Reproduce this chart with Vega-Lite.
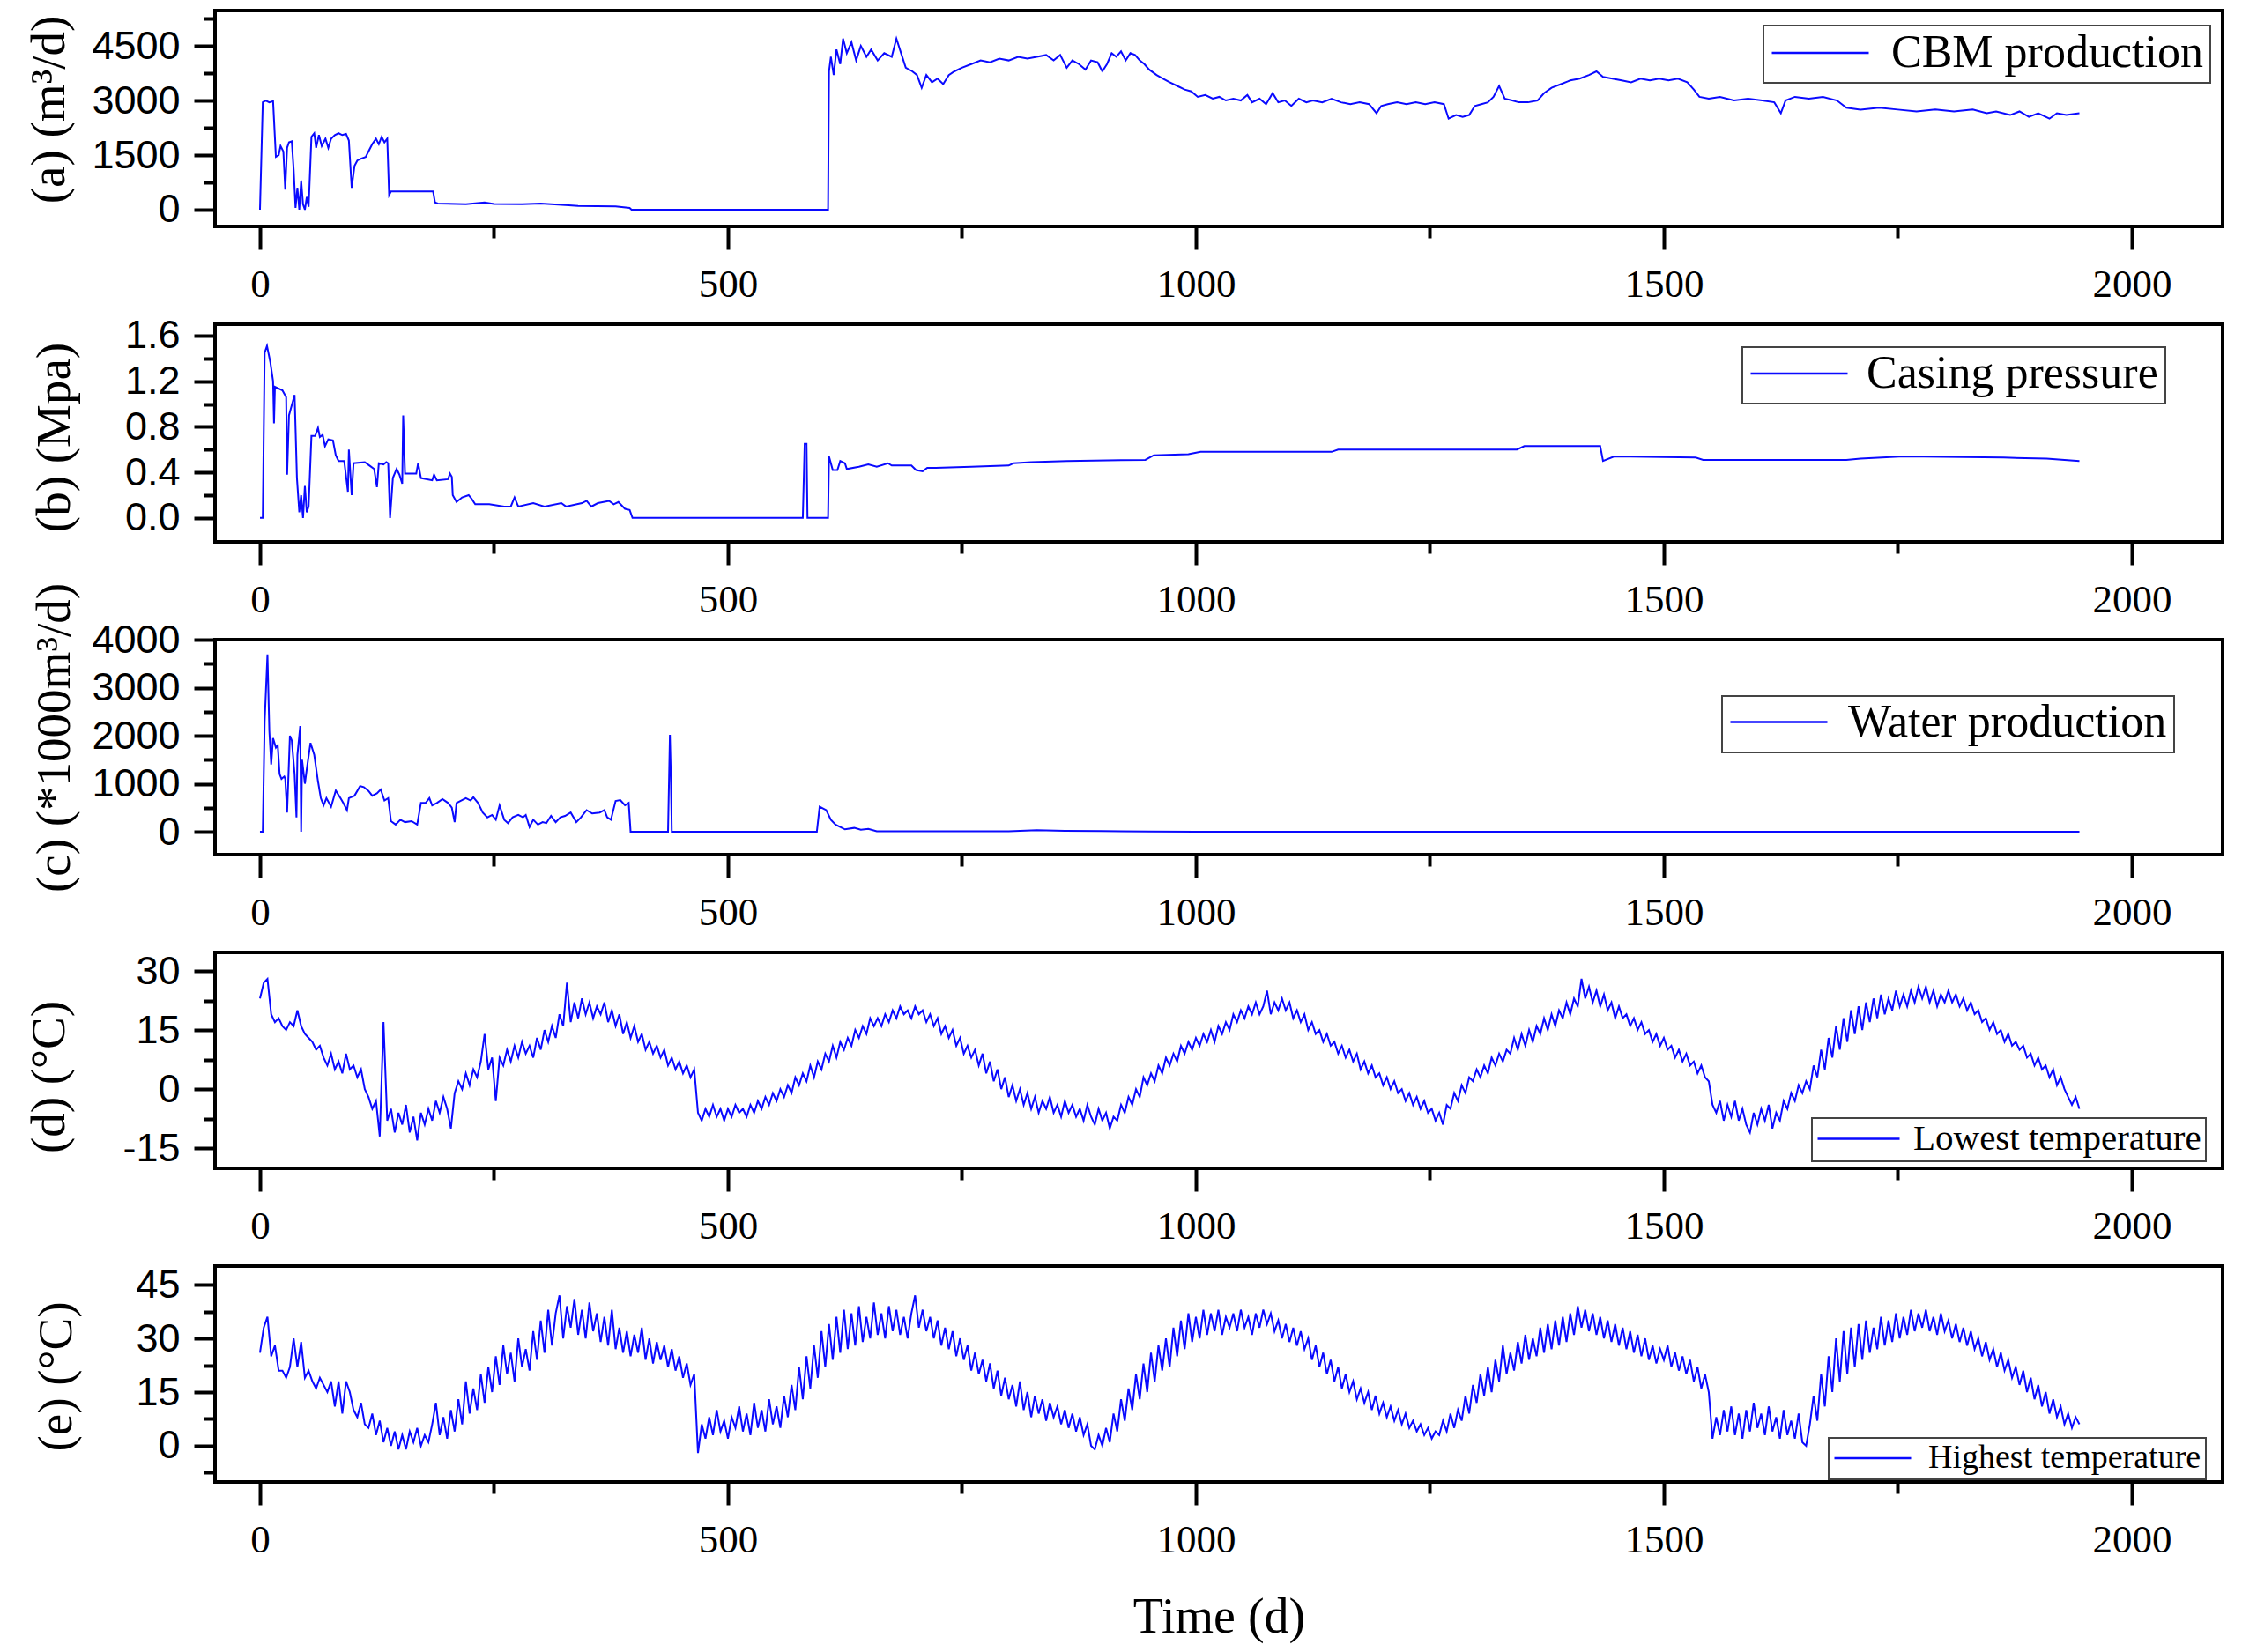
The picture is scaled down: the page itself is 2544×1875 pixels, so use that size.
{
"$schema": "https://vega.github.io/schema/vega-lite/v6.json",
"background": "white",
"padding": {"left": 26, "top": 10, "right": 5, "bottom": 5},
"bounds": "flush",
"spacing": 111,
"datasets": {
"a": [{"t":0,"v":0},{"t":3,"v":2950},{"t":6,"v":3000},{"t":10,"v":2950},{"t":14,"v":2980},{"t":17,"v":1450},{"t":20,"v":1500},{"t":22,"v":1750},{"t":25,"v":1600},{"t":27,"v":550},{"t":29,"v":1700},{"t":31,"v":1850},{"t":34,"v":1880},{"t":36,"v":1100},{"t":38,"v":50},{"t":40,"v":600},{"t":42,"v":0},{"t":44,"v":800},{"t":46,"v":150},{"t":48,"v":0},{"t":50,"v":350},{"t":52,"v":80},{"t":55,"v":2000},{"t":58,"v":2100},{"t":60,"v":1700},{"t":63,"v":2050},{"t":66,"v":1750},{"t":70,"v":1950},{"t":73,"v":1700},{"t":76,"v":1950},{"t":80,"v":2050},{"t":84,"v":2100},{"t":88,"v":2050},{"t":92,"v":2080},{"t":95,"v":1900},{"t":98,"v":600},{"t":101,"v":1200},{"t":104,"v":1350},{"t":108,"v":1400},{"t":113,"v":1450},{"t":117,"v":1650},{"t":120,"v":1800},{"t":124,"v":1950},{"t":127,"v":1800},{"t":130,"v":2000},{"t":133,"v":1850},{"t":136,"v":1950},{"t":138,"v":400},{"t":140,"v":500},{"t":185,"v":500},{"t":187,"v":200},{"t":190,"v":170},{"t":220,"v":150},{"t":240,"v":200},{"t":250,"v":160},{"t":280,"v":150},{"t":300,"v":170},{"t":330,"v":120},{"t":340,"v":100},{"t":380,"v":90},{"t":395,"v":50},{"t":397,"v":0},{"t":607,"v":0},{"t":608,"v":3800},{"t":610,"v":4200},{"t":613,"v":3700},{"t":616,"v":4400},{"t":620,"v":4000},{"t":623,"v":4700},{"t":627,"v":4300},{"t":632,"v":4600},{"t":637,"v":4100},{"t":642,"v":4500},{"t":648,"v":4200},{"t":653,"v":4400},{"t":660,"v":4100},{"t":667,"v":4300},{"t":675,"v":4200},{"t":680,"v":4700},{"t":685,"v":4300},{"t":690,"v":3900},{"t":697,"v":3800},{"t":702,"v":3700},{"t":707,"v":3350},{"t":712,"v":3700},{"t":718,"v":3500},{"t":724,"v":3600},{"t":730,"v":3450},{"t":736,"v":3700},{"t":742,"v":3800},{"t":750,"v":3900},{"t":760,"v":4000},{"t":770,"v":4100},{"t":780,"v":4050},{"t":790,"v":4150},{"t":800,"v":4100},{"t":810,"v":4200},{"t":820,"v":4150},{"t":830,"v":4200},{"t":840,"v":4250},{"t":848,"v":4100},{"t":855,"v":4250},{"t":862,"v":3900},{"t":868,"v":4100},{"t":875,"v":4000},{"t":882,"v":3850},{"t":888,"v":4100},{"t":895,"v":4050},{"t":900,"v":3800},{"t":905,"v":4000},{"t":910,"v":4300},{"t":915,"v":4200},{"t":920,"v":4350},{"t":925,"v":4100},{"t":930,"v":4300},{"t":935,"v":4250},{"t":940,"v":4100},{"t":945,"v":4000},{"t":950,"v":3850},{"t":958,"v":3700},{"t":965,"v":3600},{"t":972,"v":3500},{"t":980,"v":3400},{"t":988,"v":3300},{"t":995,"v":3250},{"t":1002,"v":3100},{"t":1010,"v":3150},{"t":1018,"v":3050},{"t":1025,"v":3100},{"t":1032,"v":3000},{"t":1040,"v":3050},{"t":1048,"v":3000},{"t":1055,"v":3150},{"t":1060,"v":2950},{"t":1068,"v":3050},{"t":1075,"v":2900},{"t":1082,"v":3200},{"t":1088,"v":2950},{"t":1095,"v":3000},{"t":1102,"v":2850},{"t":1110,"v":3050},{"t":1118,"v":2950},{"t":1125,"v":3000},{"t":1135,"v":2950},{"t":1145,"v":3050},{"t":1155,"v":2950},{"t":1165,"v":2900},{"t":1175,"v":2950},{"t":1185,"v":2900},{"t":1193,"v":2650},{"t":1198,"v":2850},{"t":1205,"v":2900},{"t":1215,"v":2950},{"t":1225,"v":2900},{"t":1235,"v":2950},{"t":1245,"v":2900},{"t":1255,"v":2950},{"t":1265,"v":2900},{"t":1270,"v":2500},{"t":1278,"v":2600},{"t":1285,"v":2550},{"t":1292,"v":2600},{"t":1298,"v":2850},{"t":1305,"v":2900},{"t":1312,"v":2950},{"t":1318,"v":3100},{"t":1324,"v":3400},{"t":1330,"v":3050},{"t":1338,"v":3000},{"t":1345,"v":2950},{"t":1355,"v":2950},{"t":1365,"v":3000},{"t":1372,"v":3200},{"t":1380,"v":3350},{"t":1390,"v":3450},{"t":1400,"v":3550},{"t":1410,"v":3600},{"t":1420,"v":3700},{"t":1428,"v":3800},{"t":1435,"v":3650},{"t":1445,"v":3600},{"t":1455,"v":3550},{"t":1465,"v":3500},{"t":1475,"v":3600},{"t":1485,"v":3550},{"t":1495,"v":3600},{"t":1505,"v":3550},{"t":1515,"v":3600},{"t":1525,"v":3500},{"t":1532,"v":3300},{"t":1538,"v":3100},{"t":1548,"v":3050},{"t":1560,"v":3100},{"t":1575,"v":3000},{"t":1590,"v":3050},{"t":1605,"v":3000},{"t":1618,"v":2950},{"t":1625,"v":2650},{"t":1630,"v":3000},{"t":1640,"v":3100},{"t":1655,"v":3050},{"t":1670,"v":3100},{"t":1685,"v":3000},{"t":1695,"v":2800},{"t":1710,"v":2750},{"t":1730,"v":2800},{"t":1750,"v":2750},{"t":1770,"v":2700},{"t":1790,"v":2750},{"t":1810,"v":2700},{"t":1830,"v":2750},{"t":1845,"v":2650},{"t":1855,"v":2700},{"t":1870,"v":2600},{"t":1880,"v":2700},{"t":1890,"v":2550},{"t":1900,"v":2650},{"t":1912,"v":2500},{"t":1920,"v":2650},{"t":1930,"v":2600},{"t":1944,"v":2650}],
"b": [{"t":0,"v":0},{"t":3,"v":0},{"t":5,"v":1.45},{"t":7.5,"v":1.51},{"t":11,"v":1.37},{"t":14,"v":1.2},{"t":15,"v":0.83},{"t":16,"v":1.15},{"t":24,"v":1.12},{"t":28,"v":1.06},{"t":29,"v":0.38},{"t":31,"v":0.9},{"t":37,"v":1.08},{"t":39.5,"v":0.35},{"t":42,"v":0.05},{"t":44,"v":0.2},{"t":45,"v":0.1},{"t":46,"v":0},{"t":48,"v":0.28},{"t":50,"v":0.05},{"t":52,"v":0.1},{"t":55,"v":0.72},{"t":59,"v":0.72},{"t":62,"v":0.79},{"t":64,"v":0.71},{"t":67,"v":0.73},{"t":69.5,"v":0.63},{"t":73,"v":0.69},{"t":78,"v":0.68},{"t":81,"v":0.55},{"t":84,"v":0.5},{"t":90,"v":0.5},{"t":94,"v":0.23},{"t":95,"v":0.6},{"t":98,"v":0.2},{"t":100,"v":0.48},{"t":112,"v":0.49},{"t":117,"v":0.46},{"t":122,"v":0.43},{"t":125,"v":0.27},{"t":127,"v":0.48},{"t":132,"v":0.47},{"t":135,"v":0.49},{"t":137,"v":0.48},{"t":139,"v":0},{"t":142,"v":0.35},{"t":146,"v":0.43},{"t":149,"v":0.38},{"t":152,"v":0.3},{"t":153,"v":0.9},{"t":155,"v":0.39},{"t":167,"v":0.39},{"t":169,"v":0.48},{"t":172,"v":0.35},{"t":184,"v":0.33},{"t":186,"v":0.38},{"t":189,"v":0.33},{"t":201,"v":0.34},{"t":203,"v":0.39},{"t":205,"v":0.36},{"t":206,"v":0.2},{"t":210,"v":0.14},{"t":216,"v":0.18},{"t":223,"v":0.2},{"t":226,"v":0.17},{"t":230,"v":0.12},{"t":245,"v":0.12},{"t":261,"v":0.1},{"t":268,"v":0.1},{"t":272,"v":0.18},{"t":276,"v":0.1},{"t":292,"v":0.13},{"t":304,"v":0.1},{"t":322,"v":0.13},{"t":327,"v":0.1},{"t":344,"v":0.13},{"t":349,"v":0.15},{"t":354,"v":0.1},{"t":361,"v":0.13},{"t":373,"v":0.15},{"t":378,"v":0.12},{"t":383,"v":0.14},{"t":390,"v":0.08},{"t":395,"v":0.07},{"t":398,"v":0},{"t":580,"v":0},{"t":582,"v":0.65},{"t":584,"v":0.65},{"t":585,"v":0},{"t":607,"v":0},{"t":608,"v":0.54},{"t":612,"v":0.42},{"t":617,"v":0.42},{"t":620,"v":0.5},{"t":625,"v":0.48},{"t":627,"v":0.43},{"t":640,"v":0.45},{"t":650,"v":0.47},{"t":659,"v":0.45},{"t":671,"v":0.48},{"t":675,"v":0.46},{"t":696,"v":0.46},{"t":701,"v":0.42},{"t":708,"v":0.41},{"t":713,"v":0.44},{"t":722,"v":0.44},{"t":760,"v":0.45},{"t":800,"v":0.46},{"t":805,"v":0.48},{"t":824,"v":0.49},{"t":862,"v":0.5},{"t":946,"v":0.51},{"t":955,"v":0.55},{"t":992,"v":0.56},{"t":1005,"v":0.58},{"t":1145,"v":0.58},{"t":1152,"v":0.6},{"t":1343,"v":0.6},{"t":1351,"v":0.63},{"t":1432,"v":0.63},{"t":1435,"v":0.5},{"t":1447,"v":0.54},{"t":1534,"v":0.53},{"t":1542,"v":0.51},{"t":1695,"v":0.51},{"t":1710,"v":0.52},{"t":1756,"v":0.54},{"t":1863,"v":0.53},{"t":1909,"v":0.52},{"t":1944,"v":0.5}],
"c": [{"t":0,"v":0},{"t":3,"v":0},{"t":5,"v":2300},{"t":8,"v":3690},{"t":10,"v":2100},{"t":12,"v":1400},{"t":14,"v":1950},{"t":17,"v":1750},{"t":19,"v":1800},{"t":21,"v":1200},{"t":23,"v":1100},{"t":26,"v":1150},{"t":27,"v":1100},{"t":29,"v":400},{"t":32,"v":2000},{"t":34,"v":1900},{"t":37,"v":1200},{"t":39,"v":300},{"t":40,"v":1600},{"t":43,"v":2200},{"t":44,"v":0},{"t":45,"v":1500},{"t":48,"v":1000},{"t":50,"v":1300},{"t":54,"v":1850},{"t":58,"v":1600},{"t":62,"v":1050},{"t":65,"v":700},{"t":68,"v":550},{"t":71,"v":700},{"t":76,"v":520},{"t":81,"v":860},{"t":86,"v":700},{"t":89,"v":600},{"t":93,"v":450},{"t":95,"v":700},{"t":101,"v":750},{"t":107,"v":950},{"t":111,"v":930},{"t":116,"v":850},{"t":120,"v":750},{"t":125,"v":800},{"t":129,"v":880},{"t":133,"v":650},{"t":137,"v":700},{"t":140,"v":220},{"t":145,"v":150},{"t":150,"v":250},{"t":155,"v":200},{"t":162,"v":220},{"t":168,"v":150},{"t":172,"v":600},{"t":177,"v":600},{"t":181,"v":700},{"t":184,"v":550},{"t":189,"v":600},{"t":195,"v":680},{"t":201,"v":600},{"t":205,"v":500},{"t":208,"v":200},{"t":210,"v":600},{"t":215,"v":650},{"t":220,"v":700},{"t":225,"v":650},{"t":228,"v":720},{"t":233,"v":600},{"t":238,"v":400},{"t":243,"v":300},{"t":248,"v":350},{"t":252,"v":250},{"t":256,"v":550},{"t":261,"v":250},{"t":265,"v":180},{"t":270,"v":300},{"t":276,"v":350},{"t":281,"v":300},{"t":284,"v":350},{"t":288,"v":100},{"t":292,"v":250},{"t":297,"v":150},{"t":302,"v":200},{"t":306,"v":180},{"t":311,"v":330},{"t":316,"v":200},{"t":321,"v":300},{"t":326,"v":330},{"t":332,"v":400},{"t":338,"v":200},{"t":343,"v":300},{"t":349,"v":450},{"t":355,"v":380},{"t":363,"v":400},{"t":368,"v":450},{"t":371,"v":300},{"t":375,"v":250},{"t":380,"v":640},{"t":385,"v":660},{"t":390,"v":550},{"t":394,"v":600},{"t":396,"v":0},{"t":436,"v":0},{"t":438,"v":2020},{"t":439,"v":1200},{"t":440,"v":0},{"t":595,"v":0},{"t":598,"v":520},{"t":605,"v":450},{"t":610,"v":250},{"t":615,"v":150},{"t":620,"v":100},{"t":625,"v":50},{"t":635,"v":80},{"t":642,"v":40},{"t":650,"v":60},{"t":659,"v":10},{"t":800,"v":10},{"t":830,"v":30},{"t":860,"v":20},{"t":900,"v":15},{"t":950,"v":5},{"t":1000,"v":0},{"t":1944,"v":0}],
"T": [{"t":0,"lo":23,"hi":26},{"t":4,"lo":27,"hi":33},{"t":8,"lo":28,"hi":36},{"t":12,"lo":19,"hi":25},{"t":16,"lo":17,"hi":28},{"t":20,"lo":18,"hi":21},{"t":24,"lo":16,"hi":21},{"t":28,"lo":15,"hi":19},{"t":32,"lo":17,"hi":22},{"t":36,"lo":16,"hi":30},{"t":40,"lo":20,"hi":22},{"t":44,"lo":16,"hi":29},{"t":48,"lo":14,"hi":19},{"t":52,"lo":13,"hi":21},{"t":56,"lo":12,"hi":18},{"t":60,"lo":10,"hi":16},{"t":64,"lo":11,"hi":19},{"t":68,"lo":8,"hi":17},{"t":72,"lo":6,"hi":15},{"t":76,"lo":9,"hi":18},{"t":80,"lo":5,"hi":11},{"t":84,"lo":7,"hi":18},{"t":88,"lo":4,"hi":9},{"t":92,"lo":9,"hi":18},{"t":96,"lo":5,"hi":15},{"t":100,"lo":6,"hi":10},{"t":104,"lo":3,"hi":8},{"t":108,"lo":5,"hi":12},{"t":112,"lo":0,"hi":6},{"t":116,"lo":-2,"hi":5},{"t":120,"lo":-5,"hi":9},{"t":124,"lo":-3,"hi":3},{"t":128,"lo":-12,"hi":7},{"t":132,"lo":17,"hi":1},{"t":136,"lo":-8,"hi":5},{"t":140,"lo":-5,"hi":0},{"t":144,"lo":-11,"hi":4},{"t":148,"lo":-6,"hi":-1},{"t":152,"lo":-9,"hi":3},{"t":156,"lo":-4,"hi":-1},{"t":160,"lo":-11,"hi":4},{"t":164,"lo":-7,"hi":1},{"t":168,"lo":-13,"hi":5},{"t":172,"lo":-6,"hi":0},{"t":176,"lo":-9,"hi":3},{"t":180,"lo":-5,"hi":1},{"t":184,"lo":-8,"hi":6},{"t":188,"lo":-3,"hi":12},{"t":192,"lo":-6,"hi":3},{"t":196,"lo":-2,"hi":8},{"t":200,"lo":-5,"hi":2},{"t":204,"lo":-10,"hi":10},{"t":208,"lo":-1,"hi":4},{"t":212,"lo":2,"hi":13},{"t":216,"lo":0,"hi":6},{"t":220,"lo":4,"hi":18},{"t":224,"lo":1,"hi":9},{"t":228,"lo":5,"hi":16},{"t":232,"lo":3,"hi":10},{"t":236,"lo":7,"hi":20},{"t":240,"lo":14,"hi":12},{"t":244,"lo":5,"hi":22},{"t":248,"lo":8,"hi":15},{"t":252,"lo":-3,"hi":25},{"t":256,"lo":8,"hi":17},{"t":260,"lo":6,"hi":28},{"t":264,"lo":10,"hi":20},{"t":268,"lo":7,"hi":26},{"t":272,"lo":11,"hi":18},{"t":276,"lo":8,"hi":30},{"t":280,"lo":12,"hi":22},{"t":284,"lo":9,"hi":27},{"t":288,"lo":11,"hi":21},{"t":292,"lo":8,"hi":32},{"t":296,"lo":13,"hi":24},{"t":300,"lo":10,"hi":35},{"t":304,"lo":15,"hi":26},{"t":308,"lo":12,"hi":38},{"t":312,"lo":16,"hi":28},{"t":316,"lo":13,"hi":37},{"t":320,"lo":19,"hi":42},{"t":324,"lo":16,"hi":30},{"t":328,"lo":27,"hi":39},{"t":332,"lo":17,"hi":33},{"t":336,"lo":22,"hi":41},{"t":340,"lo":18,"hi":31},{"t":344,"lo":23,"hi":38},{"t":348,"lo":19,"hi":30},{"t":352,"lo":22,"hi":40},{"t":356,"lo":18,"hi":32},{"t":360,"lo":21,"hi":37},{"t":364,"lo":19,"hi":29},{"t":368,"lo":22,"hi":36},{"t":372,"lo":17,"hi":28},{"t":376,"lo":20,"hi":38},{"t":380,"lo":16,"hi":27},{"t":384,"lo":19,"hi":33},{"t":388,"lo":14,"hi":26},{"t":392,"lo":17,"hi":32},{"t":396,"lo":13,"hi":25},{"t":400,"lo":16,"hi":31},{"t":404,"lo":12,"hi":26},{"t":408,"lo":14,"hi":33},{"t":412,"lo":10,"hi":24},{"t":416,"lo":12,"hi":30},{"t":420,"lo":9,"hi":23},{"t":424,"lo":11,"hi":29},{"t":428,"lo":8,"hi":24},{"t":432,"lo":10,"hi":28},{"t":436,"lo":6,"hi":22},{"t":440,"lo":8,"hi":27},{"t":444,"lo":5,"hi":21},{"t":448,"lo":7,"hi":25},{"t":452,"lo":4,"hi":19},{"t":456,"lo":6,"hi":23},{"t":460,"lo":3,"hi":17},{"t":464,"lo":5,"hi":20},{"t":468,"lo":-6,"hi":-2},{"t":472,"lo":-8,"hi":6},{"t":476,"lo":-5,"hi":2},{"t":480,"lo":-7,"hi":8},{"t":484,"lo":-4,"hi":3},{"t":488,"lo":-7,"hi":10},{"t":492,"lo":-5,"hi":4},{"t":496,"lo":-8,"hi":7},{"t":500,"lo":-5,"hi":2},{"t":504,"lo":-7,"hi":8},{"t":508,"lo":-4,"hi":5},{"t":512,"lo":-6,"hi":11},{"t":516,"lo":-5,"hi":4},{"t":520,"lo":-7,"hi":9},{"t":524,"lo":-4,"hi":3},{"t":528,"lo":-6,"hi":12},{"t":532,"lo":-3,"hi":5},{"t":536,"lo":-5,"hi":10},{"t":540,"lo":-2,"hi":4},{"t":544,"lo":-4,"hi":13},{"t":548,"lo":-1,"hi":6},{"t":552,"lo":-3,"hi":11},{"t":556,"lo":0,"hi":5},{"t":560,"lo":-2,"hi":14},{"t":564,"lo":1,"hi":8},{"t":568,"lo":-1,"hi":17},{"t":572,"lo":3,"hi":10},{"t":576,"lo":1,"hi":22},{"t":580,"lo":4,"hi":13},{"t":584,"lo":2,"hi":25},{"t":588,"lo":6,"hi":16},{"t":592,"lo":3,"hi":28},{"t":596,"lo":7,"hi":19},{"t":600,"lo":5,"hi":32},{"t":604,"lo":9,"hi":22},{"t":608,"lo":7,"hi":34},{"t":612,"lo":11,"hi":24},{"t":616,"lo":8,"hi":36},{"t":620,"lo":12,"hi":26},{"t":624,"lo":10,"hi":38},{"t":628,"lo":13,"hi":27},{"t":632,"lo":11,"hi":37},{"t":636,"lo":15,"hi":28},{"t":640,"lo":13,"hi":39},{"t":644,"lo":16,"hi":29},{"t":648,"lo":14,"hi":36},{"t":652,"lo":18,"hi":30},{"t":656,"lo":16,"hi":40},{"t":660,"lo":18,"hi":31},{"t":664,"lo":16,"hi":37},{"t":668,"lo":19,"hi":30},{"t":672,"lo":17,"hi":39},{"t":676,"lo":20,"hi":32},{"t":680,"lo":18,"hi":38},{"t":684,"lo":21,"hi":31},{"t":688,"lo":19,"hi":36},{"t":692,"lo":20,"hi":30},{"t":696,"lo":18,"hi":37},{"t":700,"lo":21,"hi":42},{"t":704,"lo":19,"hi":33},{"t":708,"lo":20,"hi":38},{"t":712,"lo":17,"hi":32},{"t":716,"lo":19,"hi":36},{"t":720,"lo":16,"hi":30},{"t":724,"lo":18,"hi":35},{"t":728,"lo":14,"hi":28},{"t":732,"lo":16,"hi":33},{"t":736,"lo":13,"hi":27},{"t":740,"lo":15,"hi":32},{"t":744,"lo":11,"hi":25},{"t":748,"lo":13,"hi":30},{"t":752,"lo":9,"hi":24},{"t":756,"lo":11,"hi":28},{"t":760,"lo":8,"hi":21},{"t":764,"lo":10,"hi":26},{"t":768,"lo":6,"hi":20},{"t":772,"lo":9,"hi":24},{"t":776,"lo":4,"hi":18},{"t":780,"lo":7,"hi":23},{"t":784,"lo":2,"hi":16},{"t":788,"lo":5,"hi":21},{"t":792,"lo":0,"hi":14},{"t":796,"lo":3,"hi":19},{"t":800,"lo":-2,"hi":13},{"t":804,"lo":1,"hi":17},{"t":808,"lo":-3,"hi":11},{"t":812,"lo":0,"hi":18},{"t":816,"lo":-4,"hi":10},{"t":820,"lo":-1,"hi":15},{"t":824,"lo":-5,"hi":8},{"t":828,"lo":-2,"hi":14},{"t":832,"lo":-6,"hi":9},{"t":836,"lo":-3,"hi":13},{"t":840,"lo":-5,"hi":7},{"t":844,"lo":-2,"hi":12},{"t":848,"lo":-6,"hi":8},{"t":852,"lo":-4,"hi":11},{"t":856,"lo":-7,"hi":6},{"t":860,"lo":-3,"hi":10},{"t":864,"lo":-6,"hi":5},{"t":868,"lo":-4,"hi":9},{"t":872,"lo":-7,"hi":4},{"t":876,"lo":-5,"hi":8},{"t":880,"lo":-8,"hi":3},{"t":884,"lo":-4,"hi":6},{"t":888,"lo":-7,"hi":0},{"t":892,"lo":-9,"hi":-1},{"t":896,"lo":-5,"hi":3},{"t":900,"lo":-8,"hi":0},{"t":904,"lo":-6,"hi":5},{"t":908,"lo":-10,"hi":1},{"t":912,"lo":-7,"hi":9},{"t":916,"lo":-8,"hi":4},{"t":920,"lo":-4,"hi":13},{"t":924,"lo":-6,"hi":7},{"t":928,"lo":-2,"hi":16},{"t":932,"lo":-4,"hi":10},{"t":936,"lo":0,"hi":20},{"t":940,"lo":-2,"hi":13},{"t":944,"lo":3,"hi":23},{"t":948,"lo":1,"hi":15},{"t":952,"lo":4,"hi":26},{"t":956,"lo":2,"hi":18},{"t":960,"lo":6,"hi":28},{"t":964,"lo":4,"hi":21},{"t":968,"lo":8,"hi":30},{"t":972,"lo":6,"hi":22},{"t":976,"lo":9,"hi":33},{"t":980,"lo":7,"hi":25},{"t":984,"lo":11,"hi":35},{"t":988,"lo":9,"hi":27},{"t":992,"lo":12,"hi":37},{"t":996,"lo":10,"hi":29},{"t":1000,"lo":13,"hi":36},{"t":1004,"lo":11,"hi":30},{"t":1008,"lo":14,"hi":38},{"t":1012,"lo":12,"hi":31},{"t":1016,"lo":15,"hi":37},{"t":1020,"lo":12,"hi":32},{"t":1024,"lo":16,"hi":38},{"t":1028,"lo":14,"hi":31},{"t":1032,"lo":17,"hi":36},{"t":1036,"lo":15,"hi":33},{"t":1040,"lo":19,"hi":37},{"t":1044,"lo":17,"hi":32},{"t":1048,"lo":20,"hi":38},{"t":1052,"lo":18,"hi":33},{"t":1056,"lo":21,"hi":36},{"t":1060,"lo":19,"hi":31},{"t":1064,"lo":22,"hi":37},{"t":1068,"lo":19,"hi":33},{"t":1072,"lo":21,"hi":38},{"t":1076,"lo":25,"hi":34},{"t":1080,"lo":19,"hi":37},{"t":1084,"lo":22,"hi":32},{"t":1088,"lo":20,"hi":35},{"t":1092,"lo":23,"hi":30},{"t":1096,"lo":20,"hi":34},{"t":1100,"lo":22,"hi":29},{"t":1104,"lo":18,"hi":33},{"t":1108,"lo":20,"hi":28},{"t":1112,"lo":17,"hi":32},{"t":1116,"lo":19,"hi":27},{"t":1120,"lo":15,"hi":30},{"t":1124,"lo":17,"hi":24},{"t":1128,"lo":14,"hi":28},{"t":1132,"lo":15,"hi":22},{"t":1136,"lo":12,"hi":26},{"t":1140,"lo":14,"hi":20},{"t":1144,"lo":11,"hi":24},{"t":1148,"lo":12,"hi":18},{"t":1152,"lo":9,"hi":22},{"t":1156,"lo":11,"hi":16},{"t":1160,"lo":8,"hi":20},{"t":1164,"lo":10,"hi":15},{"t":1168,"lo":7,"hi":18},{"t":1172,"lo":9,"hi":13},{"t":1176,"lo":5,"hi":16},{"t":1180,"lo":7,"hi":12},{"t":1184,"lo":4,"hi":15},{"t":1188,"lo":6,"hi":10},{"t":1192,"lo":3,"hi":14},{"t":1196,"lo":4,"hi":9},{"t":1200,"lo":1,"hi":12},{"t":1204,"lo":3,"hi":8},{"t":1208,"lo":0,"hi":11},{"t":1212,"lo":2,"hi":7},{"t":1216,"lo":-1,"hi":10},{"t":1220,"lo":0,"hi":6},{"t":1224,"lo":-3,"hi":9},{"t":1228,"lo":-1,"hi":5},{"t":1232,"lo":-4,"hi":7},{"t":1236,"lo":-2,"hi":4},{"t":1240,"lo":-5,"hi":6},{"t":1244,"lo":-3,"hi":3},{"t":1248,"lo":-6,"hi":5},{"t":1252,"lo":-5,"hi":2},{"t":1256,"lo":-8,"hi":4},{"t":1260,"lo":-6,"hi":3},{"t":1264,"lo":-9,"hi":7},{"t":1268,"lo":-4,"hi":4},{"t":1272,"lo":-5,"hi":9},{"t":1276,"lo":-1,"hi":5},{"t":1280,"lo":-3,"hi":10},{"t":1284,"lo":1,"hi":7},{"t":1288,"lo":-1,"hi":14},{"t":1292,"lo":3,"hi":9},{"t":1296,"lo":2,"hi":17},{"t":1300,"lo":5,"hi":12},{"t":1304,"lo":3,"hi":20},{"t":1308,"lo":6,"hi":14},{"t":1312,"lo":4,"hi":22},{"t":1316,"lo":8,"hi":15},{"t":1320,"lo":6,"hi":24},{"t":1324,"lo":9,"hi":18},{"t":1328,"lo":7,"hi":28},{"t":1332,"lo":10,"hi":20},{"t":1336,"lo":9,"hi":26},{"t":1340,"lo":13,"hi":21},{"t":1344,"lo":10,"hi":29},{"t":1348,"lo":14,"hi":23},{"t":1352,"lo":11,"hi":31},{"t":1356,"lo":15,"hi":24},{"t":1360,"lo":12,"hi":30},{"t":1364,"lo":16,"hi":25},{"t":1368,"lo":14,"hi":33},{"t":1372,"lo":18,"hi":26},{"t":1376,"lo":15,"hi":34},{"t":1380,"lo":19,"hi":27},{"t":1384,"lo":16,"hi":35},{"t":1388,"lo":20,"hi":28},{"t":1392,"lo":18,"hi":36},{"t":1396,"lo":22,"hi":29},{"t":1400,"lo":19,"hi":37},{"t":1404,"lo":23,"hi":31},{"t":1408,"lo":21,"hi":39},{"t":1412,"lo":28,"hi":33},{"t":1416,"lo":23,"hi":38},{"t":1420,"lo":26,"hi":32},{"t":1424,"lo":22,"hi":37},{"t":1428,"lo":25,"hi":31},{"t":1432,"lo":21,"hi":36},{"t":1436,"lo":24,"hi":30},{"t":1440,"lo":20,"hi":35},{"t":1444,"lo":22,"hi":29},{"t":1448,"lo":18,"hi":34},{"t":1452,"lo":21,"hi":28},{"t":1456,"lo":18,"hi":33},{"t":1460,"lo":19,"hi":27},{"t":1464,"lo":16,"hi":32},{"t":1468,"lo":18,"hi":26},{"t":1472,"lo":15,"hi":31},{"t":1476,"lo":17,"hi":25},{"t":1480,"lo":14,"hi":30},{"t":1484,"lo":15,"hi":24},{"t":1488,"lo":12,"hi":28},{"t":1492,"lo":14,"hi":23},{"t":1496,"lo":11,"hi":27},{"t":1500,"lo":13,"hi":24},{"t":1504,"lo":10,"hi":28},{"t":1508,"lo":11,"hi":22},{"t":1512,"lo":8,"hi":26},{"t":1516,"lo":10,"hi":21},{"t":1520,"lo":7,"hi":25},{"t":1524,"lo":9,"hi":20},{"t":1528,"lo":6,"hi":24},{"t":1532,"lo":7,"hi":18},{"t":1536,"lo":4,"hi":22},{"t":1540,"lo":6,"hi":16},{"t":1544,"lo":3,"hi":20},{"t":1548,"lo":2,"hi":15},{"t":1552,"lo":-4,"hi":2},{"t":1556,"lo":-6,"hi":8},{"t":1560,"lo":-3,"hi":3},{"t":1564,"lo":-8,"hi":10},{"t":1568,"lo":-4,"hi":4},{"t":1572,"lo":-7,"hi":11},{"t":1576,"lo":-3,"hi":3},{"t":1580,"lo":-8,"hi":9},{"t":1584,"lo":-5,"hi":2},{"t":1588,"lo":-9,"hi":10},{"t":1592,"lo":-11,"hi":4},{"t":1596,"lo":-6,"hi":12},{"t":1600,"lo":-9,"hi":5},{"t":1604,"lo":-5,"hi":9},{"t":1608,"lo":-8,"hi":3},{"t":1612,"lo":-4,"hi":11},{"t":1616,"lo":-10,"hi":4},{"t":1620,"lo":-6,"hi":8},{"t":1624,"lo":-8,"hi":2},{"t":1628,"lo":-3,"hi":10},{"t":1632,"lo":-5,"hi":3},{"t":1636,"lo":-1,"hi":7},{"t":1640,"lo":-3,"hi":2},{"t":1644,"lo":1,"hi":9},{"t":1648,"lo":-1,"hi":1},{"t":1652,"lo":2,"hi":0},{"t":1656,"lo":0,"hi":6},{"t":1660,"lo":6,"hi":14},{"t":1664,"lo":3,"hi":7},{"t":1668,"lo":10,"hi":20},{"t":1672,"lo":5,"hi":11},{"t":1676,"lo":13,"hi":25},{"t":1680,"lo":8,"hi":15},{"t":1684,"lo":16,"hi":30},{"t":1688,"lo":10,"hi":18},{"t":1692,"lo":18,"hi":32},{"t":1696,"lo":12,"hi":20},{"t":1700,"lo":20,"hi":33},{"t":1704,"lo":14,"hi":22},{"t":1708,"lo":21,"hi":34},{"t":1712,"lo":15,"hi":24},{"t":1716,"lo":22,"hi":35},{"t":1720,"lo":17,"hi":26},{"t":1724,"lo":23,"hi":33},{"t":1728,"lo":18,"hi":27},{"t":1732,"lo":24,"hi":36},{"t":1736,"lo":19,"hi":28},{"t":1740,"lo":23,"hi":35},{"t":1744,"lo":20,"hi":29},{"t":1748,"lo":25,"hi":37},{"t":1752,"lo":21,"hi":30},{"t":1756,"lo":24,"hi":36},{"t":1760,"lo":21,"hi":31},{"t":1764,"lo":25,"hi":38},{"t":1768,"lo":22,"hi":32},{"t":1772,"lo":26,"hi":37},{"t":1776,"lo":23,"hi":33},{"t":1780,"lo":26,"hi":38},{"t":1784,"lo":22,"hi":32},{"t":1788,"lo":25,"hi":36},{"t":1792,"lo":21,"hi":31},{"t":1796,"lo":24,"hi":37},{"t":1800,"lo":22,"hi":32},{"t":1804,"lo":25,"hi":35},{"t":1808,"lo":22,"hi":30},{"t":1812,"lo":24,"hi":34},{"t":1816,"lo":21,"hi":29},{"t":1820,"lo":23,"hi":33},{"t":1824,"lo":20,"hi":28},{"t":1828,"lo":22,"hi":32},{"t":1832,"lo":19,"hi":27},{"t":1836,"lo":20,"hi":30},{"t":1840,"lo":17,"hi":25},{"t":1844,"lo":18,"hi":29},{"t":1848,"lo":15,"hi":24},{"t":1852,"lo":17,"hi":27},{"t":1856,"lo":14,"hi":22},{"t":1860,"lo":15,"hi":26},{"t":1864,"lo":12,"hi":21},{"t":1868,"lo":14,"hi":24},{"t":1872,"lo":11,"hi":19},{"t":1876,"lo":12,"hi":22},{"t":1880,"lo":10,"hi":17},{"t":1884,"lo":11,"hi":21},{"t":1888,"lo":8,"hi":15},{"t":1892,"lo":9,"hi":19},{"t":1896,"lo":6,"hi":13},{"t":1900,"lo":8,"hi":17},{"t":1904,"lo":5,"hi":11},{"t":1908,"lo":6,"hi":15},{"t":1912,"lo":3,"hi":9},{"t":1916,"lo":5,"hi":13},{"t":1920,"lo":1,"hi":8},{"t":1924,"lo":3,"hi":11},{"t":1928,"lo":0,"hi":6},{"t":1932,"lo":-2,"hi":9},{"t":1936,"lo":-4,"hi":5},{"t":1940,"lo":-2,"hi":8},{"t":1944,"lo":-5,"hi":6}]
},
"vconcat": [
{"width": 2278, "height": 245, "data": {"name": "a"},
 "layer": [
  {"mark": {"type": "line", "strokeWidth": 2},
   "encoding": {
    "x": {"field": "t", "type": "quantitative", "scale": {"domain": [-48, 2097], "nice": false, "zero": false}, "axis": {"orient": "bottom", "values": [0,500,1000,1500,2000], "format": "d", "tickSize": 26, "labelFont": "Liberation Serif", "labelFontSize": 45, "labelPadding": 17, "title": null}},
    "y": {"field": "v", "type": "quantitative", "scale": {"domain": [-460, 5470], "nice": false, "zero": false}, "axis": {"orient": "left", "values": [0,1500,3000,4500], "format": "d", "tickSize": 24, "labelFont": "Liberation Sans", "labelFontSize": 45, "labelPadding": 16, "title": "(a) (m³/d)", "titleX": -172, "titleY": 112}},
    "color": {"datum": "CBM production", "type": "nominal", "scale": {"range": ["#0a0aff"]}, "legend": {"title": null, "orient": "none", "legendX": 1757, "legendY": 17, "symbolSize": 12100, "labelFontSize": 52, "clipHeight": 46, "labelOffset": 24}}
   }},
  {"mark": {"type": "line", "strokeOpacity": 0},
   "encoding": {
    "x": {"field": "t", "type": "quantitative", "scale": {"domain": [-48, 2097], "nice": false, "zero": false}, "axis": {"orient": "bottom", "values": [250,750,1250,1750], "tickSize": 13, "labels": false, "title": null}},
    "y": {"field": "v", "type": "quantitative", "scale": {"domain": [-460, 5470], "nice": false, "zero": false}, "axis": {"orient": "left", "values": [750,2250,3750,5250], "tickSize": 13, "labels": false, "title": null}}
   }}
 ],
 "resolve": {"axis": {"x": "independent", "y": "independent"}}
},
{"width": 2278, "height": 247, "data": {"name": "b"},
 "layer": [
  {"mark": {"type": "line", "strokeWidth": 2},
   "encoding": {
    "x": {"field": "t", "type": "quantitative", "scale": {"domain": [-48, 2097], "nice": false, "zero": false}, "axis": {"orient": "bottom", "values": [0,500,1000,1500,2000], "format": "d", "tickSize": 26, "labelFont": "Liberation Serif", "labelFontSize": 45, "labelPadding": 17, "title": null}},
    "y": {"field": "v", "type": "quantitative", "scale": {"domain": [-0.21, 1.70], "nice": false, "zero": false}, "axis": {"orient": "left", "values": [0,0.4,0.8,1.2,1.6], "format": ".1f", "tickSize": 24, "labelFont": "Liberation Sans", "labelFontSize": 45, "labelPadding": 16, "title": "(b) (Mpa)", "titleX": -166, "titleY": 128}},
    "color": {"datum": "Casing pressure", "type": "nominal", "scale": {"range": ["#0a0aff"]}, "legend": {"title": null, "orient": "none", "legendX": 1733, "legendY": 26, "symbolSize": 12100, "labelFontSize": 52, "clipHeight": 44, "labelOffset": 20}}
   }},
  {"mark": {"type": "line", "strokeOpacity": 0},
   "encoding": {
    "x": {"field": "t", "type": "quantitative", "scale": {"domain": [-48, 2097], "nice": false, "zero": false}, "axis": {"orient": "bottom", "values": [250,750,1250,1750], "tickSize": 13, "labels": false, "title": null}},
    "y": {"field": "v", "type": "quantitative", "scale": {"domain": [-0.21, 1.70], "nice": false, "zero": false}, "axis": {"orient": "left", "values": [0.2,0.6,1.0,1.4], "tickSize": 13, "labels": false, "title": null}}
   }}
 ],
 "resolve": {"axis": {"x": "independent", "y": "independent"}}
},
{"width": 2278, "height": 244, "data": {"name": "c"},
 "layer": [
  {"mark": {"type": "line", "strokeWidth": 2},
   "encoding": {
    "x": {"field": "t", "type": "quantitative", "scale": {"domain": [-48, 2097], "nice": false, "zero": false}, "axis": {"orient": "bottom", "values": [0,500,1000,1500,2000], "format": "d", "tickSize": 26, "labelFont": "Liberation Serif", "labelFontSize": 45, "labelPadding": 17, "title": null}},
    "y": {"field": "v", "type": "quantitative", "scale": {"domain": [-477, 4000], "nice": false, "zero": false}, "axis": {"orient": "left", "values": [0,1000,2000,3000,4000], "format": "d", "tickSize": 24, "labelFont": "Liberation Sans", "labelFontSize": 45, "labelPadding": 16, "title": "(c) (*1000m³/d)", "titleX": -166, "titleY": 111}},
    "color": {"datum": "Water production", "type": "nominal", "scale": {"range": ["#0a0aff"]}, "legend": {"title": null, "orient": "none", "legendX": 1710, "legendY": 64, "symbolSize": 12100, "labelFontSize": 52, "clipHeight": 43, "labelOffset": 22}}
   }},
  {"mark": {"type": "line", "strokeOpacity": 0},
   "encoding": {
    "x": {"field": "t", "type": "quantitative", "scale": {"domain": [-48, 2097], "nice": false, "zero": false}, "axis": {"orient": "bottom", "values": [250,750,1250,1750], "tickSize": 13, "labels": false, "title": null}},
    "y": {"field": "v", "type": "quantitative", "scale": {"domain": [-477, 4000], "nice": false, "zero": false}, "axis": {"orient": "left", "values": [500,1500,2500,3500], "tickSize": 13, "labels": false, "title": null}}
   }}
 ],
 "resolve": {"axis": {"x": "independent", "y": "independent"}}
},
{"width": 2278, "height": 245, "data": {"name": "T"},
 "layer": [
  {"mark": {"type": "line", "strokeWidth": 2},
   "encoding": {
    "x": {"field": "t", "type": "quantitative", "scale": {"domain": [-48, 2097], "nice": false, "zero": false}, "axis": {"orient": "bottom", "values": [0,500,1000,1500,2000], "format": "d", "tickSize": 26, "labelFont": "Liberation Serif", "labelFontSize": 45, "labelPadding": 17, "title": null}},
    "y": {"field": "lo", "type": "quantitative", "scale": {"domain": [-20.1, 34.7], "nice": false, "zero": false}, "axis": {"orient": "left", "values": [-15,0,15,30], "labelExpr": "datum.value < 0 ? '-' + (-datum.value) : '' + datum.value", "tickSize": 24, "labelFont": "Liberation Sans", "labelFontSize": 45, "labelPadding": 16, "title": "(d) (°C)", "titleX": -172, "titleY": 141}},
    "color": {"datum": "Lowest temperature", "type": "nominal", "scale": {"range": ["#0a0aff"]}, "legend": {"title": null, "orient": "none", "legendX": 1812, "legendY": 188, "symbolSize": 8649, "labelFontSize": 41, "clipHeight": 37, "labelOffset": 14, "padding": 5}}
   }},
  {"mark": {"type": "line", "strokeOpacity": 0},
   "encoding": {
    "x": {"field": "t", "type": "quantitative", "scale": {"domain": [-48, 2097], "nice": false, "zero": false}, "axis": {"orient": "bottom", "values": [250,750,1250,1750], "tickSize": 13, "labels": false, "title": null}},
    "y": {"field": "lo", "type": "quantitative", "scale": {"domain": [-20.1, 34.7], "nice": false, "zero": false}, "axis": {"orient": "left", "values": [-7.5,7.5,22.5], "tickSize": 13, "labels": false, "title": null}}
   }}
 ],
 "resolve": {"axis": {"x": "independent", "y": "independent"}}
},
{"width": 2278, "height": 245, "data": {"name": "T"},
 "layer": [
  {"mark": {"type": "line", "strokeWidth": 2},
   "encoding": {
    "x": {"field": "t", "type": "quantitative", "scale": {"domain": [-48, 2097], "nice": false, "zero": false}, "axis": {"orient": "bottom", "values": [0,500,1000,1500,2000], "format": "d", "tickSize": 26, "labelFont": "Liberation Serif", "labelFontSize": 45, "labelPadding": 17, "title": "Time (d)", "titleFontSize": 56, "titleY": 170}},
    "y": {"field": "hi", "type": "quantitative", "scale": {"domain": [-10.1, 50.2], "nice": false, "zero": false}, "axis": {"orient": "left", "values": [0,15,30,45], "format": "d", "tickSize": 24, "labelFont": "Liberation Sans", "labelFontSize": 45, "labelPadding": 16, "title": "(e) (°C)", "titleX": -164, "titleY": 125}},
    "color": {"datum": "Highest temperature", "type": "nominal", "scale": {"range": ["#0a0aff"]}, "legend": {"title": null, "orient": "none", "legendX": 1831, "legendY": 195, "symbolSize": 7569, "labelFontSize": 38, "clipHeight": 36, "labelOffset": 18, "padding": 5}}
   }},
  {"mark": {"type": "line", "strokeOpacity": 0},
   "encoding": {
    "x": {"field": "t", "type": "quantitative", "scale": {"domain": [-48, 2097], "nice": false, "zero": false}, "axis": {"orient": "bottom", "values": [250,750,1250,1750], "tickSize": 13, "labels": false, "title": null}},
    "y": {"field": "hi", "type": "quantitative", "scale": {"domain": [-10.1, 50.2], "nice": false, "zero": false}, "axis": {"orient": "left", "values": [-7.5,7.5,22.5,37.5], "tickSize": 13, "labels": false, "title": null}}
   }}
 ],
 "resolve": {"axis": {"x": "independent", "y": "independent"}}
}
],
"resolve": {"scale": {"color": "independent"}, "legend": {"color": "independent"}},
"config": {
 "view": {"stroke": "black", "strokeWidth": 4},
 "axis": {"domain": false, "grid": false, "ticks": true, "tickColor": "black", "tickWidth": 4, "labelColor": "black", "labelFlush": false, "labelOverlap": false, "titleColor": "black", "titleFont": "Liberation Serif", "titleFontSize": 55, "titleFontWeight": "normal", "titleBaseline": "alphabetic"},
 "legend": {"symbolType": "stroke", "symbolStrokeWidth": 2.5, "labelFont": "Liberation Serif", "labelColor": "black", "padding": 8, "strokeColor": "#444444", "fillColor": "white", "labelLimit": 0, "strokeWidth": 2}
}
}
